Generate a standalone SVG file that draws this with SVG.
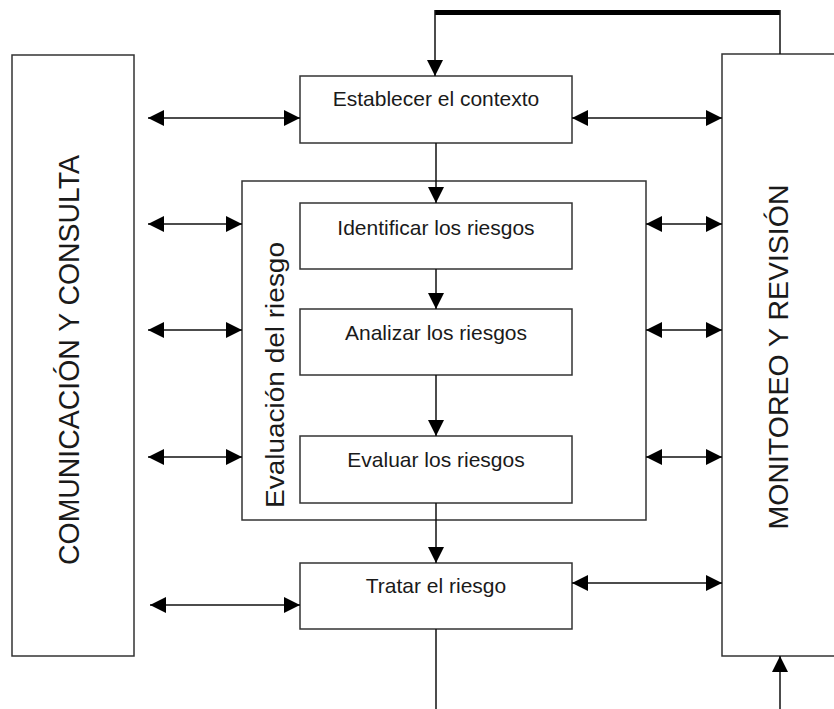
<svg xmlns="http://www.w3.org/2000/svg" width="834" height="709" viewBox="0 0 834 709">
<style>
.box{fill:#fff;stroke:#333;stroke-width:1.5}
.lbl{font-family:"Liberation Sans",Arial,sans-serif;font-size:21px;fill:#1a1a1a;text-anchor:middle}
.big{font-family:"Liberation Sans",Arial,sans-serif;fill:#1a1a1a;text-anchor:middle}
.ln{stroke:#111;stroke-width:1.5;fill:none}
.dbl{stroke:#111;stroke-width:1.5;fill:none;marker-start:url(#ah);marker-end:url(#ah)}
.one{stroke:#111;stroke-width:1.5;fill:none;marker-end:url(#ah)}
</style>
<defs>
<marker id="ah" markerWidth="16" markerHeight="16" refX="16" refY="8" orient="auto-start-reverse" markerUnits="userSpaceOnUse">
<path d="M0,0 L16,8 L0,16 Z" fill="#000"/>
</marker>
</defs>
<rect width="834" height="709" fill="#fff"/>

<g id="comunicacion">
<rect class="box" x="12" y="55" width="122" height="601"/>
<text class="big" font-size="29" transform="translate(79,360) rotate(-90)" textLength="410" lengthAdjust="spacingAndGlyphs">COMUNICACIÓN Y CONSULTA</text>
</g>

<g id="monitoreo">
<rect class="box" x="722" y="54" width="130" height="602"/>
<text class="big" font-size="28" transform="translate(788,357) rotate(-90)" textLength="345" lengthAdjust="spacingAndGlyphs">MONITOREO Y REVISIÓN</text>
</g>

<g id="evaluacion-riesgo">
<rect class="box" x="242" y="181" width="404" height="339"/>
<text class="big" font-size="26" transform="translate(284,375) rotate(-90)" textLength="266" lengthAdjust="spacingAndGlyphs">Evaluación del riesgo</text>
</g>

<g id="establecer">
<rect class="box" x="300" y="76" width="272" height="67"/>
<text class="lbl" x="436" y="106">Establecer el contexto</text>
</g>

<g id="identificar">
<rect class="box" x="300" y="203" width="272" height="66"/>
<text class="lbl" x="436" y="235">Identificar los riesgos</text>
</g>

<g id="analizar">
<rect class="box" x="300" y="309" width="272" height="66"/>
<text class="lbl" x="436" y="340">Analizar los riesgos</text>
</g>

<g id="evaluar">
<rect class="box" x="300" y="436" width="272" height="67"/>
<text class="lbl" x="436" y="467">Evaluar los riesgos</text>
</g>

<g id="tratar">
<rect class="box" x="300" y="563" width="272" height="66"/>
<text class="lbl" x="436" y="593">Tratar el riesgo</text>
</g>

<g id="connectors">
<line x1="435" y1="12.5" x2="780" y2="12.5" stroke="#000" stroke-width="5"/>
<line class="ln" x1="780" y1="10" x2="780" y2="54"/>
<line class="one" x1="435" y1="10" x2="435" y2="76"/>
<line class="one" x1="436" y1="143" x2="436" y2="203"/>
<line class="one" x1="436" y1="269" x2="436" y2="309"/>
<line class="one" x1="436" y1="375" x2="436" y2="436"/>
<line class="one" x1="436" y1="503" x2="436" y2="563"/>
<line class="ln" x1="436" y1="629" x2="436" y2="709"/>
<line class="one" x1="780" y1="709" x2="780" y2="656"/>

<line class="dbl" x1="148" y1="118" x2="300" y2="118"/>
<line class="dbl" x1="148" y1="224" x2="242" y2="224"/>
<line class="dbl" x1="148" y1="330" x2="242" y2="330"/>
<line class="dbl" x1="148" y1="457" x2="242" y2="457"/>
<line class="dbl" x1="150" y1="605" x2="300" y2="605"/>

<line class="dbl" x1="572" y1="118" x2="722" y2="118"/>
<line class="dbl" x1="646" y1="224" x2="722" y2="224"/>
<line class="dbl" x1="646" y1="330" x2="722" y2="330"/>
<line class="dbl" x1="646" y1="457" x2="722" y2="457"/>
<line class="dbl" x1="572" y1="583" x2="722" y2="583"/>
</g>
</svg>
